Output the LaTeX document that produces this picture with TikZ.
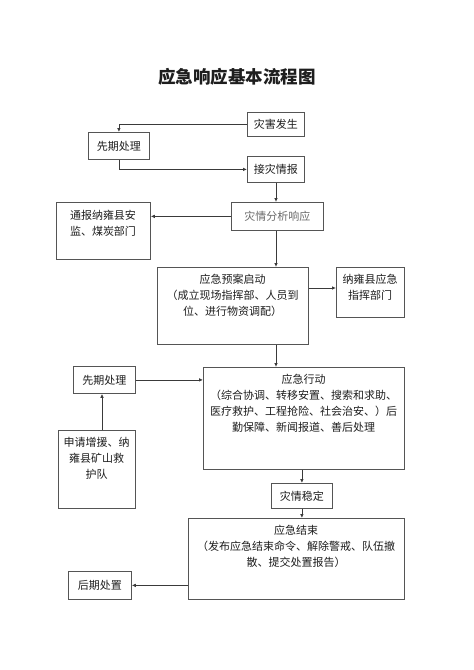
\documentclass[tikz,border=0pt]{standalone}
\usepackage{fontspec}
\setmainfont{Noto Sans CJK SC}
\usetikzlibrary{arrows.meta}
\definecolor{boxc}{HTML}{555555}
\definecolor{txtc}{HTML}{1E1E1E}
\definecolor{linec}{HTML}{3A3A3A}
\tikzset{
  box/.style={draw=boxc, line width=0.8pt, rectangle, inner sep=0pt, anchor=north west},
  txt/.style={text=txtc, font=\fontsize{11}{16}\selectfont, align=center, inner sep=0pt},
  arr/.style={draw=linec, line width=0.8pt, -{Latex[length=4pt,width=3.6pt]}},
}
\begin{document}
\begin{tikzpicture}[x=1pt,y=-1pt]
\useasboundingbox[fill=white] (0,0) rectangle (474,670);
% title
\node[text=txtc, font=\fontsize{17.5}{20}\selectfont\bfseries] (title) at (237,77) {应急响应基本流程图};
% boxes
\node[box, minimum width=57pt, minimum height=24pt] (zaihai) at (247,112) {};
\node[txt] (zaihaiT) at (zaihai.center) {灾害发生};
\node[box, minimum width=61pt, minimum height=27pt] (xq1) at (88,132) {};
\node[txt] (xq1T) at (xq1.center) {先期处理};
\node[box, minimum width=57pt, minimum height=26pt] (jiezai) at (247,156) {};
\node[txt] (jiezaiT) at (jiezai.center) {接灾情报};
\node[box, minimum width=92pt, minimum height=28pt] (fenxi) at (231,202) {};
\node[txt, text=black!58] (fenxiT) at (fenxi.center) {灾情分析响应};
\node[box, minimum width=94pt, minimum height=57pt] (tongbao) at (56,202) {};
\node[txt, anchor=north] (tongbaoT) at (103,209.5) {通报纳雍县安\\监、煤炭部门};
\node[box, minimum width=151pt, minimum height=77pt] (yuan) at (157,267) {};
\node[txt, anchor=north] (yuanT) at (232.5,273.5) {应急预案启动\\（成立现场指挥部、人员到\\位、进行物资调配）};
\node[box, minimum width=68pt, minimum height=50pt] (zhihui) at (336,267) {};
\node[txt, anchor=north] (zhihuiT) at (370,273.5) {纳雍县应急\\指挥部门};
\node[box, minimum width=201pt, minimum height=102pt] (xingdong) at (203,367) {};
\node[txt, anchor=north] (xingdongT) at (303.5,373.5) {应急行动\\（综合协调、转移安置、搜索和求助、\\医疗救护、工程抢险、社会治安、）后\\勤保障、新闻报道、善后处理};
\node[box, minimum width=62pt, minimum height=27pt] (xq2) at (73,366) {};
\node[txt] (xq2T) at (xq2.center) {先期处理};
\node[box, minimum width=77pt, minimum height=78pt] (shenqing) at (58,430) {};
\node[txt, anchor=north] (shenqingT) at (96.5,437.5) {申请增援、纳\\雍县矿山救\\护队};
\node[box, minimum width=61pt, minimum height=25pt] (wending) at (271,483) {};
\node[txt] (wendingT) at (wending.center) {灾情稳定};
\node[box, minimum width=216pt, minimum height=81pt] (jieshu) at (188,518) {};
\node[txt, anchor=north] (jieshuT) at (296,524.5) {应急结束\\（发布应急结束命令、解除警戒、队伍撤\\散、提交处置报告）};
\node[box, minimum width=63pt, minimum height=28pt] (houqi) at (68,571) {};
\node[txt] (houqiT) at (houqi.center) {后期处置};
% connectors
\coordinate (c1) at (276,0);
\draw[arr] (zaihai.west) -| (xq1.north);
\draw[arr] (xq1.south) |- (jiezai.west);
\draw[arr] (c1 |- jiezai.south) -- (c1 |- fenxi.north);
\draw[arr] (fenxi.west) -- (fenxi.west -| tongbao.east);
\draw[arr] (c1 |- fenxi.south) -- (c1 |- yuan.north);
\coordinate (c2) at (0,288);
\draw[arr] (c2 -| yuan.east) -- (c2 -| zhihui.west);
\draw[arr] (c1 |- yuan.south) -- (c1 |- xingdong.north);
\draw[arr] (xq2.east) -- (xq2.east -| xingdong.west);
\coordinate (c3) at (102,0);
\draw[arr] (c3 |- shenqing.north) -- (c3 |- xq2.south);
\draw[arr] (wending.north |- xingdong.south) -- (wending.north);
\draw[arr] (wending.south) -- (wending.south |- jieshu.north);
\draw[arr] (houqi.east -| jieshu.west) -- (houqi.east);
\end{tikzpicture}
\end{document}
